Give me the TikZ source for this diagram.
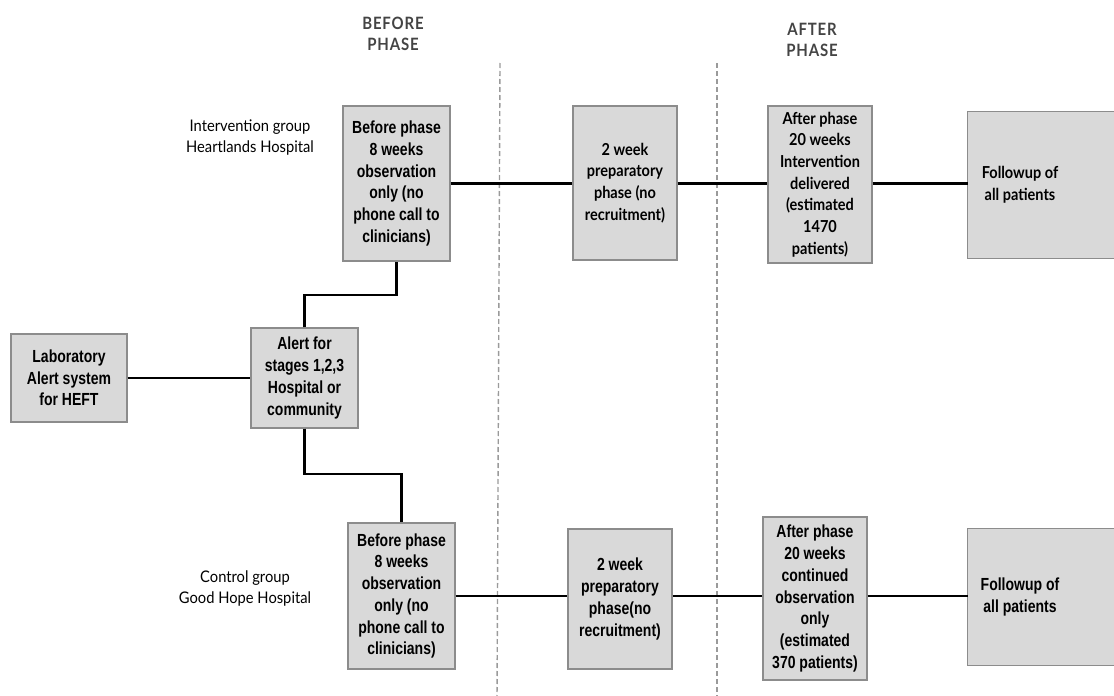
\documentclass[tikz,border=0pt]{standalone}
\usepackage{fontspec}
\setmainfont{Liberation Sans}
\newfontfamily\arialn[FakeStretch=0.8]{Liberation Sans}
\newfontfamily\laton[FakeStretch=0.88]{Lato}
\newfontfamily\latolab[FakeStretch=0.92]{Lato}
\newfontfamily\latohead[FakeStretch=0.88,LetterSpace=5]{Lato}
\usetikzlibrary{backgrounds}
\definecolor{boxfill}{HTML}{D9D9D9}
\definecolor{boxline}{HTML}{8C8C8C}
\definecolor{headgray}{HTML}{444444}
\definecolor{dashgray}{HTML}{9A9A9A}
\tikzset{
  x=1pt, y=-1pt,
  boxa/.style={draw=boxline, line width=1.2pt, fill=boxfill, align=center, inner sep=2pt,
    font=\arialn\bfseries\fontsize{17.5}{21.7}\selectfont},
  boxl/.style={draw=boxline, line width=1.2pt, fill=boxfill, align=center, inner sep=2pt,
    font=\laton\bfseries\fontsize{16.5}{21.7}\selectfont},
  boxfree/.style={align=center, inner sep=2pt},
  grouplabel/.style={align=center, font=\latolab\fontsize{16}{21}\selectfont},
  phasehead/.style={align=center, text=headgray, font=\latohead\bfseries\fontsize{17}{21}\selectfont},
  link/.style={draw=black, line width=2.2pt},
  divider/.style={draw=dashgray, line width=1.4pt, dash pattern=on 5pt off 3pt},
}
\begin{document}
\begin{tikzpicture}
\useasboundingbox (0,0) rectangle (1114,696);
\clip (0,0) rectangle (1114,696);

% phase headers
\node[phasehead] (hbefore) at (393,33.5) {BEFORE\\PHASE};
\node[phasehead] (hafter) at (812,39.5) {AFTER\\PHASE};

% dashed dividers
\draw[divider] (500,63) -- (497,700);
\draw[divider] (717,63) -- (717,700);

% group labels
\node[grouplabel] (lint) at (250,137.5) {Intervention group\\Heartlands Hospital};
\node[grouplabel] (lctl) at (245,588.5) {Control group\\Good Hope Hospital};

% left nodes
\node[boxa, minimum width=116pt, minimum height=88pt] (lab) at (69,378) {Laboratory\\Alert system\\for HEFT};
\node[boxa, minimum width=107pt, minimum height=100pt] (alert) at (304.5,378) {Alert for\\stages 1,2,3\\Hospital or\\community};

% intervention row
\node[boxa, minimum width=107pt, minimum height=155pt] (ib) at (396.5,183.5) {Before phase\\8 weeks\\observation\\only (no\\phone call to\\clinicians)};
\node[boxl, minimum width=104pt, minimum height=154pt] (ip) at (625,183) {2 week\\preparatory\\phase (no\\recruitment)};
\node[boxl, minimum width=104pt, minimum height=157pt] (ia) at (820,184.5) {After phase\\20 weeks\\Intervention\\delivered\\(estimated\\1470\\patients)};
\node[boxfree, font=\laton\bfseries\fontsize{16.5}{21.7}\selectfont, minimum width=104pt, minimum height=146pt] (if) at (1020,185) {Followup of\\all patients};

% control row
\node[boxa, minimum width=107pt, minimum height=146pt] (cb) at (401.5,596) {Before phase\\8 weeks\\observation\\only (no\\phone call to\\clinicians)};
\node[boxa, minimum width=104pt, minimum height=140pt] (cp) at (620,599) {2 week\\preparatory\\phase(no\\recruitment)};
\node[boxa, minimum width=104pt, minimum height=163pt] (ca) at (815,598.5) {After phase\\20 weeks\\continued\\observation\\only\\(estimated\\370 patients)};
\node[boxfree, font=\arialn\bfseries\fontsize{17.5}{21.7}\selectfont, minimum width=104pt, minimum height=136pt] (cf) at (1020,597) {Followup of\\all patients};

% followup boxes running off the right edge
\begin{scope}[on background layer]
\draw[draw=boxline, line width=1.2pt, fill=boxfill] (if.north west) rectangle ([xshift=80pt]if.south east);
\draw[draw=boxline, line width=1.2pt, fill=boxfill] (cf.north west) rectangle ([xshift=80pt]cf.south east);
\end{scope}

% connectors
\coordinate (j1) at (396.5,295);
\coordinate (j2) at (401.5,474);
\draw[link] (lab.east) -- (alert.west |- lab.east);
\draw[link] (alert.north) |- (j1) -- (ib.south);
\draw[link] (alert.south) |- (j2) -- (cb.north);

\draw[link] (ib.east) -- (ip.west |- ib.east);
\draw[link] (ip.east |- ib.east) -- (ia.west |- ib.east);
\draw[link] (ia.east |- ib.east) -- (if.west |- ib.east);

\draw[link] (cb.east) -- (cp.west |- cb.east);
\draw[link] (cp.east |- cb.east) -- (ca.west |- cb.east);
\draw[link] (ca.east |- cb.east) -- (cf.west |- cb.east);
\end{tikzpicture}
\end{document}
